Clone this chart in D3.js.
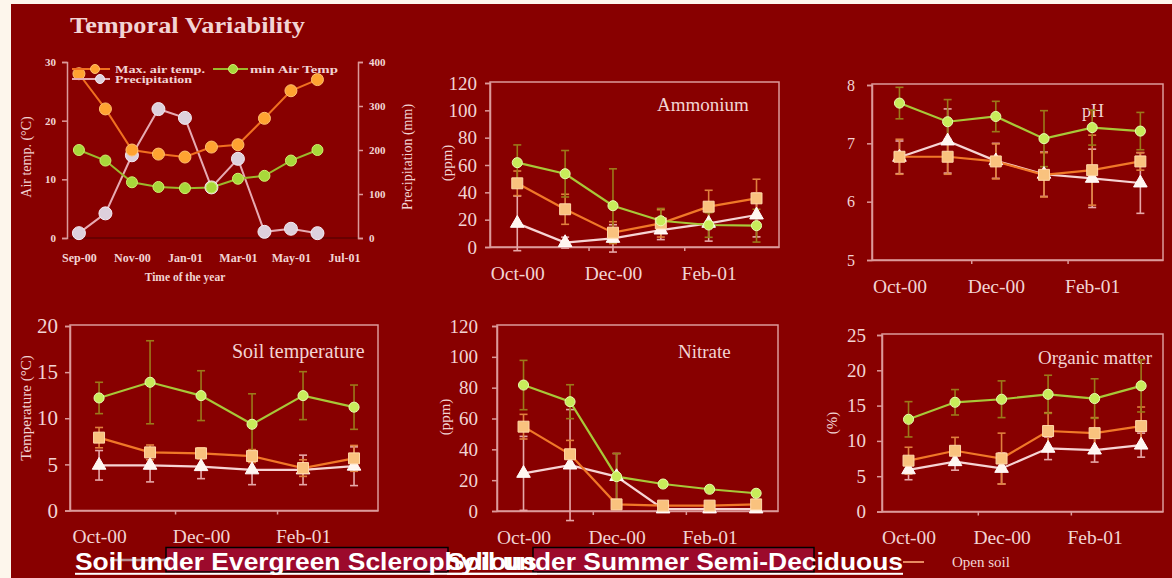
<!DOCTYPE html>
<html><head><meta charset="utf-8">
<script src="https://cdn.jsdelivr.net/npm/d3@7"></script>
<style>html,body{margin:0;padding:0;background:#880000;}svg{display:block;}</style>
</head><body>
<script>
// ---------------- DATA ----------------
const climateMonths = ["Sep-00","Oct-00","Nov-00","Dec-00","Jan-01","Feb-01","Mar-01","Apr-01","May-01","Jun-01"];
const climateTickLabels = ["Sep-00","Nov-00","Jan-01","Mar-01","May-01","Jul-01"];
const maxAirTemp = [28.0, 22.0, 15.0, 14.3, 13.8, 15.5, 15.9, 20.4, 25.1, 27.0];
const minAirTemp = [15.0, 13.2, 9.5, 8.7, 8.5, 8.6, 10.1, 10.6, 13.2, 15.0];
const precipitation = [11, 56, 188, 293, 273, 115, 180, 14, 21, 11];
const airTempTicks = [0, 10, 20, 30];
const precipTicks = [0, 100, 200, 300, 400];

const soilMonths = ["Oct-00","Nov-00","Dec-00","Jan-01","Feb-01","Mar-01"];
const soilTickLabels = ["Oct-00","Dec-00","Feb-01"];

const ammoniumEvergreen = [61.7, 53.6, 30.2, 19.2, 16.1, 15.6];
const ammoniumEvergreenErr = [13, 17, 27, 9, 9, 12];
const ammoniumSemiDec = [46.6, 27.6, 10.5, 17.3, 29.5, 35.6];
const ammoniumSemiDecErr = [9, 11, 8, 10, 12, 14];
const ammoniumOpen = [17.3, 3.2, 6.3, 12.4, 17.3, 23.4];
const ammoniumOpenErr = [20, 4, 10, 7, 13, 16];
const ammoniumTicks = [0, 20, 40, 60, 80, 100, 120];

const phEvergreen = [7.69, 7.37, 7.46, 7.08, 7.27, 7.21];
const phEvergreenErr = [0.27, 0.38, 0.26, 0.48, 0.3, 0.32];
const phSemiDec = [6.77, 6.77, 6.69, 6.46, 6.54, 6.69];
const phSemiDecErr = [0.3, 0.3, 0.3, 0.38, 0.6, 0.15];
const phOpen = [6.76, 7.04, 6.70, 6.47, 6.40, 6.32];
const phOpenErr = [0.28, 0.55, 0.3, 0.38, 0.5, 0.52];
const phTicks = [5, 6, 7, 8];

const soilTempEvergreen = [12.2, 13.9, 12.45, 9.35, 12.45, 11.2];
const soilTempEvergreenErr = [1.7, 4.5, 2.7, 3.3, 2.6, 2.4];
const soilTempSemiDec = [7.9, 6.3, 6.2, 5.9, 4.6, 5.65];
const soilTempSemiDecErr = [1.1, 0.8, 0.6, 0.7, 0.9, 1.4];
const soilTempOpen = [4.9, 4.9, 4.75, 4.4, 4.4, 4.8];
const soilTempOpenErr = [1.6, 1.8, 1.3, 1.6, 1.6, 2.1];
const soilTempTicks = [0, 5, 10, 15, 20];

const nitrateEvergreen = [81.7, 70.9, 22.3, 17.5, 14.1, 11.5];
const nitrateEvergreenErr = [16, 11, 15, 2, 2, 2];
const nitrateSemiDec = [54.7, 36.8, 4.3, 3.5, 3.5, 4.3];
const nitrateSemiDecErr = [8, 9, 3, 1, 1, 1];
const nitrateOpen = [24.4, 29.8, 22.3, 1.3, 1.3, 1.3];
const nitrateOpenErr = [24, 36, 15, 1, 1, 1];
const nitrateTicks = [0, 20, 40, 60, 80, 100, 120];

const omEvergreen = [13.06, 15.47, 15.9, 16.6, 16.0, 17.8];
const omEvergreenErr = [2.5, 1.8, 2.6, 2.7, 2.8, 3.7];
const omSemiDec = [7.2, 8.6, 7.5, 11.4, 11.1, 12.1];
const omSemiDecErr = [1.9, 1.9, 3.6, 2.6, 2.2, 2.7];
const omOpen = [5.9, 7.05, 6.1, 8.95, 8.7, 9.4];
const omOpenErr = [1.4, 1.2, 2.2, 1.6, 1.7, 1.7];
const omTicks = [0, 5, 10, 15, 20, 25];

const legendEvergreen = "Soil under Evergreen Sclerophyllous";
const legendSemiDec = "Soil under Summer Semi-Deciduous";
const legendOpen = "Open soil";

// ---------------- STYLE ----------------
const BG = "#880000";
const AXIS = "#dc9a9a";
const TXT = "#f2d4d4";
const SERIF = "'Liberation Serif','Times New Roman',serif";
const SANS = "'Liberation Sans',Arial,sans-serif";
const STY = {
  green:  {line:"#a8c838", fill:"#c8ec5a", stroke:"#e8ffb0", err:"#9a7a1a", sym:d3.symbolCircle, size:80},
  orange: {line:"#f07828", fill:"#f9c27e", stroke:"#ffd8a8", err:"#e0803e", sym:d3.symbolSquare, size:120},
  white:  {line:"#f6d4d4", fill:"#fff6f0", stroke:"#ffffff", err:"#e6a8a8", sym:d3.symbolTriangle, size:80}
};

const W = 1172, H = 578;
const svg = d3.select("body").append("svg").attr("width", W).attr("height", H);
svg.append("rect").attr("width", W).attr("height", H).attr("fill", BG);
svg.append("rect").attr("width", 11).attr("height", H).attr("fill", "#fdf6ec");
svg.append("rect").attr("width", W).attr("height", 4).attr("fill", "#fdf6ec");

// ---------------- PANEL 1: Temporal Variability ----------------
(function(){
  const g = svg.append("g");
  const x = d3.scaleLinear().domain([-0.45, 10.53]).range([67, 358]);
  const yL = d3.scaleLinear().domain([0, 30]).range([238, 62]);
  const yR = d3.scaleLinear().domain([0, 400]).range([238, 62]);

  g.append("text").attr("x", 70).attr("y", 33).attr("fill", TXT)
    .attr("font-family", SERIF).attr("font-weight", "bold").attr("font-size", 23)
    .attr("textLength", 235).attr("lengthAdjust", "spacingAndGlyphs")
    .text("Temporal Variability");

  g.append("line").attr("x1", 67).attr("x2", 358).attr("y1", 238).attr("y2", 238)
    .attr("stroke", "#5e0000").attr("stroke-width", 1.5);

  const axL = d3.axisLeft(yL).tickValues(airTempTicks).tickSize(5).tickPadding(6);
  const gL = g.append("g").attr("transform", "translate(67,0)").call(axL);
  const axR = d3.axisRight(yR).tickValues(precipTicks).tickSize(5).tickPadding(6);
  const gR = g.append("g").attr("transform", "translate(358,0)").call(axR);
  [gL, gR].forEach(a => {
    a.select(".domain").attr("stroke", AXIS).attr("stroke-width", 1.5);
    a.selectAll(".tick line").attr("stroke", AXIS).attr("stroke-width", 1.5);
    a.selectAll(".tick text").attr("fill", TXT).attr("font-family", SERIF)
      .attr("font-weight", "bold").attr("font-size", 11);
  });
  const axB = d3.axisBottom(x).tickValues([0,2,4,6,8,10]).tickSize(0).tickPadding(15)
    .tickFormat((d,i) => climateTickLabels[i]);
  const gB = g.append("g").attr("transform", "translate(0,238)").call(axB);
  gB.select(".domain").remove();
  gB.selectAll(".tick text").attr("fill", TXT).attr("font-family", SERIF)
    .attr("font-weight", "bold").attr("font-size", 12);

  g.append("text").attr("x", 185).attr("y", 281).attr("text-anchor", "middle")
    .attr("fill", TXT).attr("font-family", SERIF).attr("font-weight", "bold").attr("font-size", 11.5)
    .text("Time of the year");
  g.append("text").attr("transform", "translate(31,157) rotate(-90)").attr("text-anchor", "middle")
    .attr("fill", TXT).attr("font-family", SERIF).attr("font-size", 14).text("Air temp. (°C)");
  g.append("text").attr("transform", "translate(412,157) rotate(-90)").attr("text-anchor", "middle")
    .attr("fill", TXT).attr("font-family", SERIF).attr("font-size", 14).text("Precipitation (mm)");

  const series = [
    {vals: precipitation, y: yR, line:"#e6aab2", fill:"#ddd0dc", stroke:"#f4ecf4", r:6.5},
    {vals: maxAirTemp, y: yL, line:"#f07020", fill:"#ffa331", stroke:"#ffc070", r:6},
    {vals: minAirTemp, y: yL, line:"#9cb82c", fill:"#a8d83a", stroke:"#d0f070", r:5.5}
  ];
  series.forEach(s => {
    g.append("path").datum(s.vals)
      .attr("d", d3.line().x((d,i) => x(i)).y(d => s.y(d)))
      .attr("fill", "none").attr("stroke", s.line).attr("stroke-width", 2);
  });
  series.forEach(s => {
    g.selectAll(null).data(s.vals).enter().append("circle")
      .attr("cx", (d,i) => x(i)).attr("cy", d => s.y(d)).attr("r", s.r)
      .attr("fill", s.fill).attr("stroke", s.stroke).attr("stroke-width", 1);
  });

  const leg = [
    {x1:72, x2:110, mx:95, y:69, tx:115, w:90, label:"Max. air temp.", s:series[1]},
    {x1:213, x2:248, mx:233, y:69, tx:250, w:88, label:"min Air Temp", s:series[2]},
    {x1:72, x2:110, mx:100, y:79, tx:115, w:77, label:"Precipitation", s:series[0]}
  ];
  leg.forEach(l => {
    g.append("line").attr("x1", l.x1).attr("x2", l.x2).attr("y1", l.y).attr("y2", l.y)
      .attr("stroke", l.s.line).attr("stroke-width", 2);
    g.append("circle").attr("cx", l.mx).attr("cy", l.y).attr("r", 4.5)
      .attr("fill", l.s.fill).attr("stroke", l.s.stroke);
    g.append("text").attr("x", l.tx).attr("y", l.y + 3.5).attr("fill", TXT)
      .attr("font-family", SERIF).attr("font-weight", "bold").attr("font-size", 10)
      .attr("textLength", l.w).attr("lengthAdjust", "spacingAndGlyphs")
      .text(l.label);
  });
})();

// ---------------- SOIL PANELS ----------------
function soilPanel(cfg) {
  const g = svg.append("g");
  const x = d3.scaleLinear().domain([-0.57, 5.47]).range([cfg.x0, cfg.x1]);
  const y = d3.scaleLinear().domain(cfg.domain).range([cfg.yb, cfg.yt]);
  const top = y(cfg.domain[1]);

  g.append("rect").attr("x", cfg.x0).attr("y", top - 1).attr("width", cfg.x1 - cfg.x0)
    .attr("height", cfg.yb - top + 1).attr("fill", "none").attr("stroke", AXIS).attr("stroke-width", 1.5);

  const axY = d3.axisLeft(y).tickValues(cfg.ticks).tickSize(5).tickPadding(cfg.gap)
    .tickFormat(d3.format("~g"));
  const gy = g.append("g").attr("transform", `translate(${cfg.x0},0)`).call(axY);
  gy.select(".domain").attr("stroke", AXIS).attr("stroke-width", 1.5);
  gy.selectAll(".tick line").attr("stroke", AXIS).attr("stroke-width", 1.5);
  gy.selectAll(".tick text").attr("fill", TXT).attr("font-family", SERIF).attr("font-size", cfg.yfs);

  const axX = d3.axisBottom(x).tickValues([0,2,4]).tickSize(0).tickPadding(19)
    .tickFormat((d,i) => soilTickLabels[i]);
  const gx = g.append("g").attr("transform", `translate(0,${cfg.yb})`).call(axX);
  gx.select(".domain").attr("stroke", AXIS).attr("stroke-width", 1.5);
  gx.selectAll(".tick text").attr("fill", TXT).attr("font-family", SERIF).attr("font-size", 19.5);
  g.selectAll(null).data([1.5, 3.5]).enter().append("line")
    .attr("x1", d => x(d)).attr("x2", d => x(d)).attr("y1", cfg.yb).attr("y2", cfg.yb + 4)
    .attr("stroke", AXIS).attr("stroke-width", 1.5);

  g.append("text").attr("x", cfg.tx).attr("y", cfg.ty).attr("fill", TXT)
    .attr("font-family", SERIF).attr("font-size", cfg.tfs).text(cfg.title);
  if (cfg.ylabel) {
    g.append("text").attr("transform", `translate(${cfg.lx},${cfg.ly}) rotate(-90)`)
      .attr("text-anchor", "middle").attr("fill", TXT).attr("font-family", SERIF)
      .attr("font-size", 15).text(cfg.ylabel);
  }

  const order = ["white", "orange", "green"];
  order.forEach(k => {
    const s = cfg.series[k], st = STY[k];
    s.vals.forEach((v, i) => {
      const e = s.err[i], cx = x(i);
      const y1 = y(v + e), y2 = y(v - e);
      g.append("line").attr("x1", cx).attr("x2", cx).attr("y1", y1).attr("y2", y2)
        .attr("stroke", st.err).attr("stroke-width", 1.6);
      [y1, y2].forEach(yy => g.append("line").attr("x1", cx - 4).attr("x2", cx + 4)
        .attr("y1", yy).attr("y2", yy).attr("stroke", st.err).attr("stroke-width", 1.6));
    });
  });
  order.forEach(k => {
    const s = cfg.series[k], st = STY[k];
    g.append("path").datum(s.vals)
      .attr("d", d3.line().x((d,i) => x(i)).y(d => y(d)))
      .attr("fill", "none").attr("stroke", st.line).attr("stroke-width", 2.2);
  });
  order.forEach(k => {
    const s = cfg.series[k], st = STY[k];
    g.selectAll(null).data(s.vals).enter().append("path")
      .attr("transform", (d,i) => `translate(${x(i)},${y(d)})`)
      .attr("d", d3.symbol().type(st.sym).size(st.size))
      .attr("fill", st.fill).attr("stroke", st.stroke).attr("stroke-width", 1);
  });
}

soilPanel({x0:490, x1:779, yb:247, yt:83, domain:[0,120], ticks:ammoniumTicks, gap:8, yfs:19,
  title:"Ammonium", tx:657, ty:111, tfs:19, ylabel:"(ppm)", lx:452, ly:163,
  series:{green:{vals:ammoniumEvergreen, err:ammoniumEvergreenErr},
          orange:{vals:ammoniumSemiDec, err:ammoniumSemiDecErr},
          white:{vals:ammoniumOpen, err:ammoniumOpenErr}}});

soilPanel({x0:872, x1:1163, yb:260, yt:85, domain:[5,8], ticks:phTicks, gap:12, yfs:16,
  title:"pH", tx:1082, ty:117, tfs:18,
  series:{green:{vals:phEvergreen, err:phEvergreenErr},
          orange:{vals:phSemiDec, err:phSemiDecErr},
          white:{vals:phOpen, err:phOpenErr}}});

soilPanel({x0:70, x1:378, yb:510.5, yt:326, domain:[0,20], ticks:soilTempTicks, gap:7, yfs:21,
  title:"Soil temperature", tx:232, ty:358, tfs:20, ylabel:"Temperature (°C)", lx:31, ly:408,
  series:{green:{vals:soilTempEvergreen, err:soilTempEvergreenErr},
          orange:{vals:soilTempSemiDec, err:soilTempSemiDecErr},
          white:{vals:soilTempOpen, err:soilTempOpenErr}}});

soilPanel({x0:497, x1:778, yb:511, yt:326, domain:[0,120], ticks:nitrateTicks, gap:14, yfs:19,
  title:"Nitrate", tx:678, ty:358, tfs:19, ylabel:"(ppm)", lx:450, ly:417,
  series:{green:{vals:nitrateEvergreen, err:nitrateEvergreenErr},
          orange:{vals:nitrateSemiDec, err:nitrateSemiDecErr},
          white:{vals:nitrateOpen, err:nitrateOpenErr}}});

soilPanel({x0:882, x1:1163, yb:511.5, yt:335, domain:[0,25], ticks:omTicks, gap:11, yfs:19,
  title:"Organic matter", tx:1038, ty:364, tfs:19, ylabel:"(%)", lx:837, ly:423,
  series:{green:{vals:omEvergreen, err:omEvergreenErr},
          orange:{vals:omSemiDec, err:omSemiDecErr},
          white:{vals:omOpen, err:omOpenErr}}});

// ---------------- BOTTOM LEGEND / OVERLAY ----------------
svg.append("line").attr("x1", 110).attr("x2", 165).attr("y1", 560).attr("y2", 560)
  .attr("stroke", "#b89090").attr("stroke-width", 2.5);
svg.append("line").attr("x1", 903).attr("x2", 924).attr("y1", 562).attr("y2", 562)
  .attr("stroke", "#e88a60").attr("stroke-width", 2);
svg.append("text").attr("x", 952).attr("y", 567).attr("fill", TXT).attr("font-family", SERIF)
  .attr("font-size", 15).text(legendOpen);

[[166, 282], [533, 281]].forEach(b => {
  svg.append("rect").attr("x", b[0]).attr("y", 547.5).attr("width", b[1]).attr("height", 24.5)
    .attr("fill", "#9c0a2c").attr("stroke", "#000").attr("stroke-width", 1.5);
});
[[75, 462, legendEvergreen], [447, 456, legendSemiDec]].forEach(t => {
  svg.append("text").attr("x", t[0]).attr("y", 569.5).attr("fill", "#ffffff")
    .attr("font-family", SANS).attr("font-weight", "bold").attr("font-size", 24.5)
    .attr("textLength", t[1]).attr("lengthAdjust", "spacingAndGlyphs").text(t[2]);
  svg.append("rect").attr("x", t[0]).attr("y", 572.8).attr("width", t[1]).attr("height", 2)
    .attr("fill", "#ffffff");
});
</script>
</body></html>
